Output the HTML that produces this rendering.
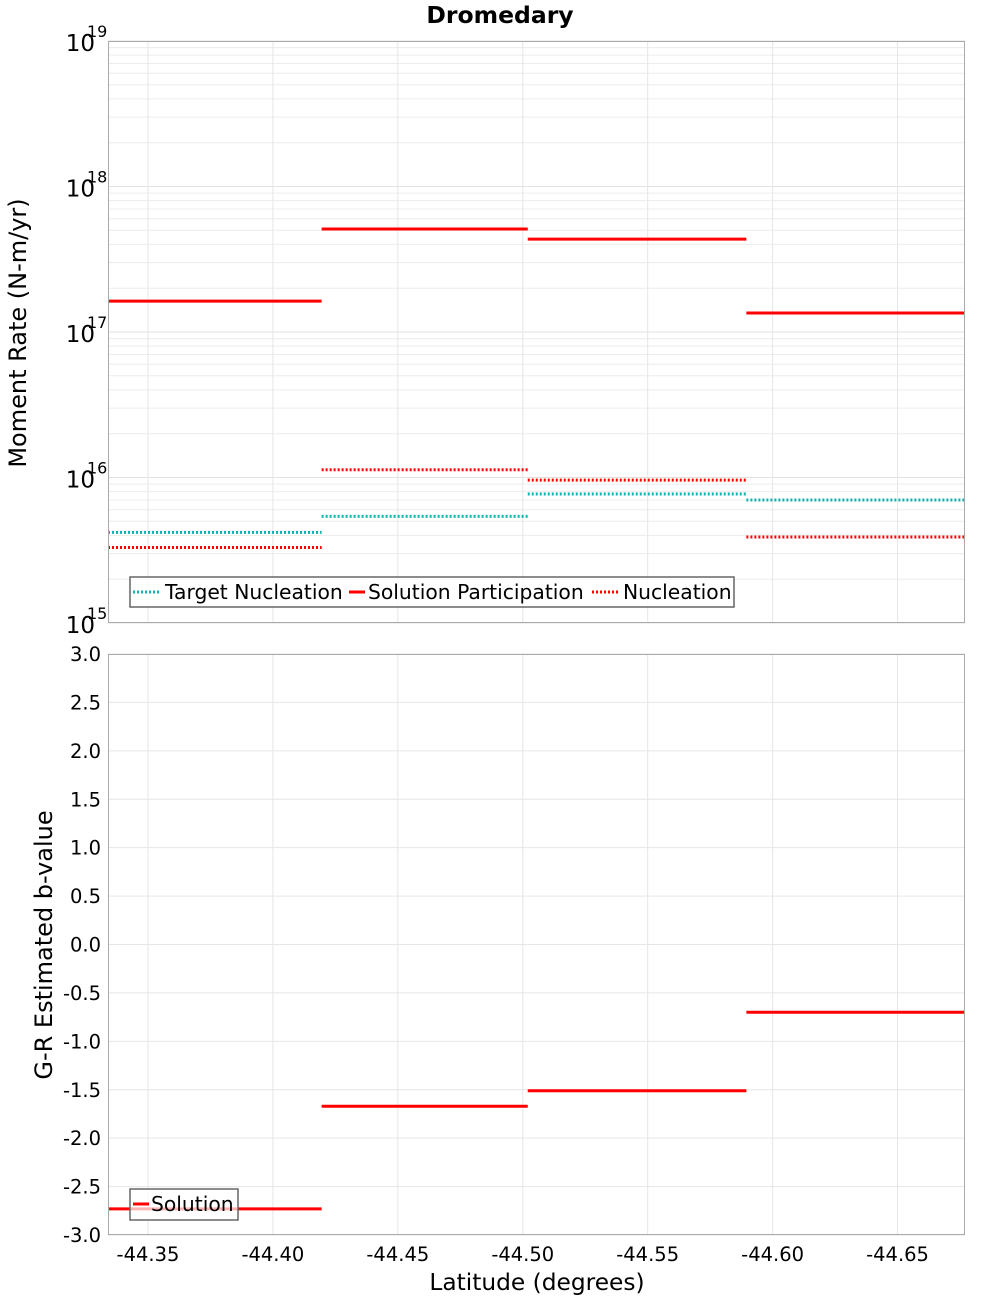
<!DOCTYPE html>
<html><head><meta charset="utf-8"><style>
body{margin:0;background:#fff;}
svg{display:block;font-family:"DejaVu Sans","Liberation Sans",sans-serif;}
</style></head><body>
<svg id="chart" width="1000" height="1300" viewBox="0 0 1000 1300"></svg>
<script>
const latBounds=[-44.334,-44.4195,-44.502,-44.5895,-44.677];
const solutionParticipation=[1.63e17,5.1e17,4.35e17,1.35e17];
const nucleation=[3.3e15,1.13e16,9.6e15,3.9e15];
const targetNucleation=[4.2e15,5.4e15,7.7e15,7.0e15];
const bValues=[-2.73,-1.67,-1.51,-0.70];
const xTicks=[-44.35,-44.40,-44.45,-44.50,-44.55,-44.60,-44.65];
const xTickLabels=["-44.35","-44.40","-44.45","-44.50","-44.55","-44.60","-44.65"];
const logDecades=[15,16,17,18,19];
const bTicks=[3.0,2.5,2.0,1.5,1.0,0.5,0.0,-0.5,-1.0,-1.5,-2.0,-2.5,-3.0];

const NS="http://www.w3.org/2000/svg";
const svg=document.getElementById('chart');
function mk(tag,attrs,parent,text){const e=document.createElementNS(NS,tag);for(const k in attrs)e.setAttribute(k,attrs[k]);if(text!==undefined)e.textContent=text;(parent||svg).appendChild(e);return e;}
const L=108,R=965,T1=41,B1=623,T2=654,B2=1235;
const xs=v=>L+(v-(-44.334))/(-44.677-(-44.334))*(R-L);
const yLog=v=>B1-(Math.log10(v)-15)/4*(B1-T1);
const yB=v=>B2-(v+3)/6*(B2-T2);

let t=mk('text',{x:500,y:23,'text-anchor':'middle','font-size':23.5,'font-weight':'bold'},svg,'Dromedary');


let g1=mk('g',{});

mk('rect',{x:L,y:T1,width:R-L,height:B1-T1,fill:'#fff'},g1);
for(let d=15;d<19;d++){for(let m=2;m<=9;m++){const y=yLog(m*Math.pow(10,d));mk('line',{x1:L,x2:R,y1:y,y2:y,stroke:'#ececec','stroke-width':1},g1);}}
logDecades.forEach(d=>{const y=yLog(Math.pow(10,d));mk('line',{x1:L,x2:R,y1:y,y2:y,stroke:'#e2e2e2','stroke-width':1},g1);
 const tx=mk('text',{x:95,y:y+10,'text-anchor':'end','font-size':23},g1,'10');
 
 mk('text',{x:87,y:y-4,'font-size':16},g1,String(d));});
xTicks.forEach(v=>{const x=xs(v);mk('line',{x1:x,x2:x,y1:T1,y2:B1,stroke:'#e6e6e6'},g1);});
function seg(arr,yf,col,dash,name,g,w){arr.forEach((v,i)=>{const l=mk('line',{x1:xs(latBounds[i]),x2:xs(latBounds[i+1]),y1:yf(v),y2:yf(v),stroke:col,'stroke-width':w||3},g);
 if(dash)l.setAttribute('stroke-dasharray',dash);
 });}
seg(targetNucleation,yLog,'#12b3b3','2,2','target-nucleation',g1);
seg(nucleation,yLog,'#ff0000','2,2','nucleation',g1);
seg(solutionParticipation,yLog,'#ff0000',null,'solution-participation',g1);
mk('rect',{x:L+0.5,y:T1+0.5,width:R-L-1,height:B1-T1-1,fill:'none',stroke:'#aaa'},g1);
let yt1=mk('text',{x:26,y:333,'text-anchor':'middle','font-size':24,transform:'rotate(-90 26 333)'},g1,'Moment Rate (N-m/yr)');

let lg=mk('g',{});
mk('rect',{x:130,y:577,width:604,height:30,fill:'#fff','fill-opacity':0.8,stroke:'#666','stroke-width':1.5},lg);
mk('line',{x1:133,x2:161,y1:592,y2:592,stroke:'#12b3b3','stroke-width':3,'stroke-dasharray':'2,2'},lg);
mk('text',{x:165,y:599,'font-size':20.3},lg,'Target Nucleation');
mk('line',{x1:349,x2:365,y1:592,y2:592,stroke:'#f00','stroke-width':3},lg);
mk('text',{x:368,y:599,'font-size':20.3},lg,'Solution Participation');
mk('line',{x1:592,x2:620,y1:592,y2:592,stroke:'#f00','stroke-width':3,'stroke-dasharray':'2,2'},lg);
mk('text',{x:623,y:599,'font-size':20.3},lg,'Nucleation');

let g2=mk('g',{});
bTicks.forEach(v=>{const y=yB(v);mk('line',{x1:L,x2:R,y1:y,y2:y,stroke:'#e6e6e6'},g2);
 const tx=mk('text',{x:101,y:y+7,'text-anchor':'end','font-size':19.5},g2,v.toFixed(1));
 });
xTicks.forEach((v,i)=>{const x=xs(v);mk('line',{x1:x,x2:x,y1:T2,y2:B2,stroke:'#e6e6e6'},g2);
 const tx=mk('text',{x:x,y:1261,'text-anchor':'middle','font-size':19.5},g2,xTickLabels[i]);
 });
seg(bValues,yB,'#ff0000',null,'b-value-solution',g2);
mk('rect',{x:L+0.5,y:T2+0.5,width:R-L-1,height:B2-T2-1,fill:'none',stroke:'#aaa'},g2);
let yt2=mk('text',{x:52,y:945,'text-anchor':'middle','font-size':24,transform:'rotate(-90 52 945)'},g2,'G-R Estimated b-value');

let xt=mk('text',{x:537,y:1290,'text-anchor':'middle','font-size':23.3},g2,'Latitude (degrees)');

let lg2=mk('g',{});
mk('rect',{x:130,y:1189,width:108,height:31,fill:'#fff','fill-opacity':0.7,stroke:'#666','stroke-width':1.5},lg2);
mk('line',{x1:133,x2:149,y1:1204,y2:1204,stroke:'#f00','stroke-width':3},lg2);
mk('text',{x:151,y:1211,'font-size':20.3},lg2,'Solution');
</script>
</body></html>
